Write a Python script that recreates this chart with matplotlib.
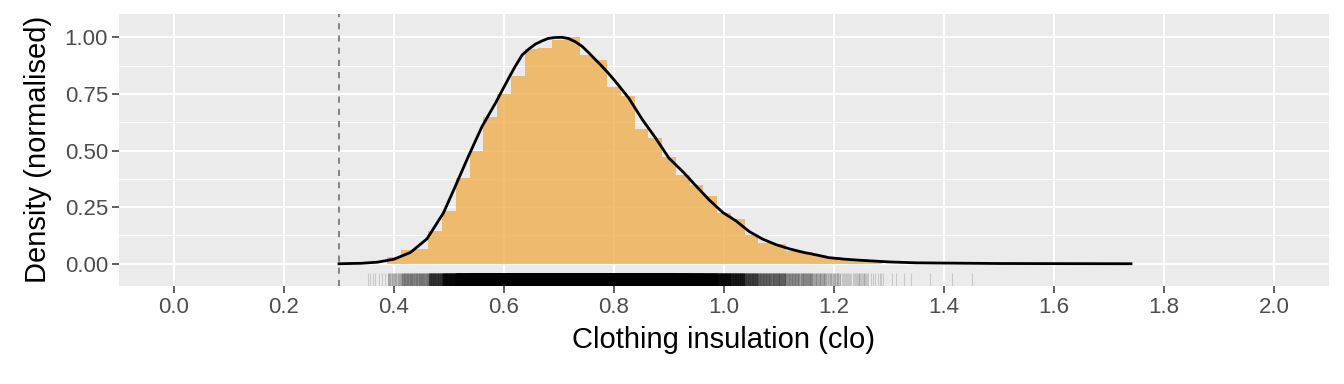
import numpy as np
import matplotlib
matplotlib.use("Agg")
from matplotlib import pyplot as plt
from matplotlib.ticker import MultipleLocator, FormatStrFormatter

plt.rcParams['font.family'] = ['Liberation Sans', 'DejaVu Sans']

# histogram (normalised count), bins of width 0.025
bin_centres = [0.400, 0.425, 0.450, 0.475, 0.500, 0.525, 0.550, 0.575, 0.600,
               0.625, 0.650, 0.675, 0.700, 0.725, 0.750, 0.775, 0.800, 0.825,
               0.850, 0.875, 0.900, 0.925, 0.950, 0.975, 1.000, 1.025, 1.050,
               1.075, 1.100, 1.125, 1.150, 1.175, 1.200, 1.225, 1.250, 1.275]
bin_heights = [0.030, 0.062, 0.065, 0.144, 0.233, 0.379, 0.498, 0.646, 0.748,
               0.828, 0.947, 0.953, 0.987, 1.000, 0.922, 0.899, 0.780, 0.740,
               0.596, 0.557, 0.471, 0.394, 0.349, 0.301, 0.226, 0.198, 0.129,
               0.090, 0.088, 0.056, 0.053, 0.038, 0.028, 0.015, 0.020, 0.006]
bin_width = 0.025

# density curve (normalised to max 1)
dens_x = [0.300, 0.340, 0.370, 0.400, 0.430, 0.460, 0.490, 0.510, 0.535, 0.560,
          0.585, 0.610, 0.620, 0.633, 0.645, 0.657, 0.670, 0.680, 0.692, 0.705,
          0.717, 0.730, 0.742, 0.754, 0.766, 0.779, 0.791, 0.803,
          0.827, 0.852, 0.876, 0.900, 0.925, 0.949, 0.973, 0.998, 1.022, 1.046,
          1.070, 1.095, 1.120, 1.145, 1.170, 1.190, 1.220, 1.250, 1.300, 1.350,
          1.400, 1.500, 1.600, 1.740]
dens_y = [0.000, 0.002, 0.007, 0.020, 0.050, 0.110, 0.225, 0.334, 0.473, 0.606,
          0.712, 0.826, 0.870, 0.922, 0.948, 0.970, 0.985, 0.995, 0.999, 1.000,
          0.995, 0.980, 0.960, 0.932, 0.902, 0.870, 0.838, 0.804,
          0.731, 0.635, 0.554, 0.466, 0.407, 0.344, 0.282, 0.226, 0.189, 0.142,
          0.109, 0.084, 0.065, 0.050, 0.038, 0.027, 0.020, 0.015, 0.008, 0.004,
          0.003, 0.001, 0.0005, 0.000]

# rug tails
rug_left = [0.353, 0.357, 0.362, 0.366, 0.372, 0.378, 0.383]
rug_right = [1.286, 1.289, 1.305, 1.313, 1.327, 1.340, 1.374, 1.415, 1.450]

x_ticks = [0.0, 0.2, 0.4, 0.6, 0.8, 1.0, 1.2, 1.4, 1.6, 1.8, 2.0]
y_ticks = [0.00, 0.25, 0.50, 0.75, 1.00]
cutoff = 0.3

# rug core: spread the histogram counts evenly across each bin
rug_core = []
for c, h in zip(bin_centres, bin_heights):
    n = int(round(h * 800))
    if n > 0:
        rug_core.extend(np.linspace(c - bin_width / 2, c + bin_width / 2, n + 2)[1:-1])
rug = np.array(rug_left + rug_core + rug_right)

fig = plt.figure(figsize=(13.44, 3.84), dpi=100)
ax = fig.add_axes([119 / 1344, (384 - 285.7) / 384, (1329 - 119) / 1344, (285.7 - 14) / 384])
ax.set_facecolor('#EBEBEB')
for s in ax.spines.values():
    s.set_visible(False)

ax.set_xlim(-0.1, 2.1)
ax.set_ylim(-0.097, 1.103)
ax.xaxis.set_major_locator(plt.FixedLocator(x_ticks))
ax.yaxis.set_major_locator(plt.FixedLocator(y_ticks))
ax.yaxis.set_minor_locator(MultipleLocator(0.125))
ax.xaxis.set_major_formatter(FormatStrFormatter('%.1f'))
ax.yaxis.set_major_formatter(FormatStrFormatter('%.2f'))
ax.grid(which='major', color='white', linewidth=1.4)
ax.grid(which='minor', axis='y', color='white', linewidth=0.7)
ax.set_axisbelow(True)

ax.bar(bin_centres, bin_heights, width=bin_width, color='#EEAE4F', alpha=0.8,
       linewidth=0, zorder=2)
ax.plot(dens_x, dens_y, color='black', linewidth=2.0, zorder=4,
        solid_joinstyle='round')
ax.axvline(cutoff, color='#666666', linewidth=1.1, linestyle=(0, (4, 4)), zorder=3)

trans = ax.get_xaxis_transform()
ax.vlines(rug, 0, 0.048, transform=trans, color='black', alpha=0.15,
          linewidth=0.8, zorder=3)

ax.tick_params(which='major', length=5, width=1.1, color='#333333',
               labelsize=16, labelcolor='#4D4D4D', pad=3)
ax.tick_params(which='minor', length=0)

ax.set_xlabel('Clothing insulation (clo)', fontsize=21, labelpad=6)
ax.set_ylabel('Density (normalised)', fontsize=21, labelpad=9)

fig.savefig('out.png', dpi=100)
